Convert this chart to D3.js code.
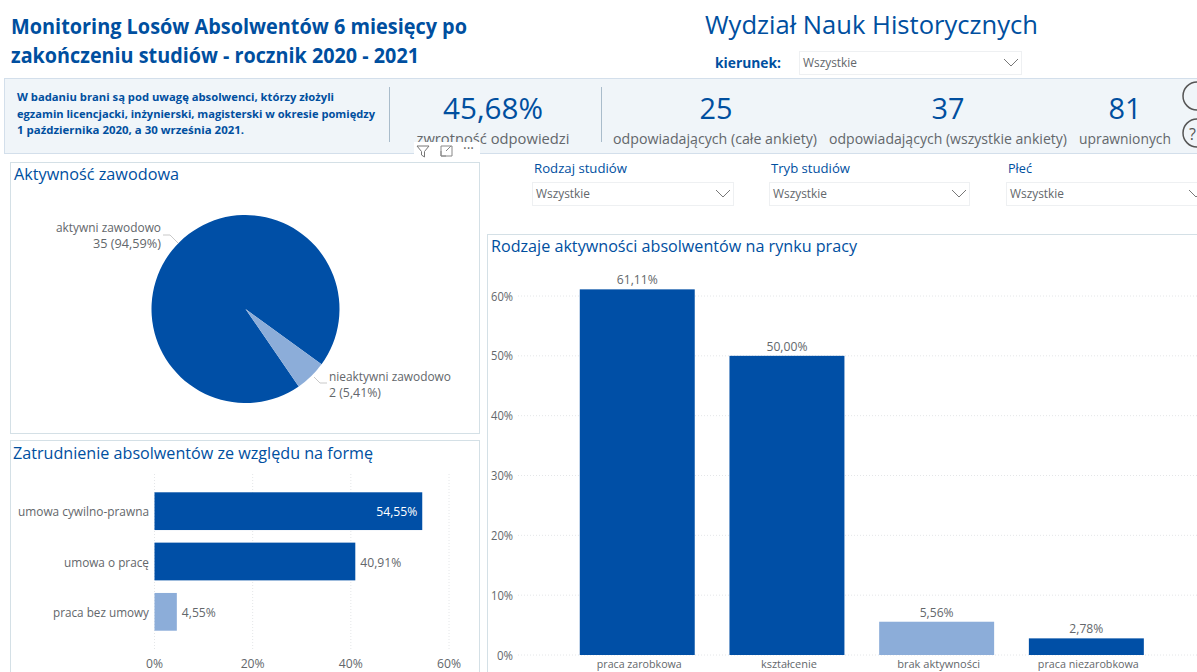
<!DOCTYPE html>
<html><head><meta charset="utf-8">
<script src="https://cdnjs.cloudflare.com/ajax/libs/d3/7.8.5/d3.min.js"></script>
<style>
html,body{margin:0;padding:0;background:#fff;overflow:hidden}
svg{display:block}
text{font-family:"Open Sans","Noto Sans",sans-serif}
</style></head><body>
<svg id="c" width="1197" height="672"></svg>
<script>
const pieLabels=["aktywni zawodowo","nieaktywni zawodowo"];
const pieValues=[35,2];
const pieTexts=["35 (94,59%)","2 (5,41%)"];
const formCategories=["umowa cywilno-prawna","umowa o pracę","praca bez umowy"];
const formValues=[54.55,40.91,4.55];
const formTicks=[0,20,40,60];
const activityCategories=["praca zarobkowa","kształcenie","brak aktywności","praca niezarobkowa"];
const activityValues=[61.11,50.00,5.56,2.78];
const activityTicks=[0,10,20,30,40,50,60];
const kpiValues=["45,68%","25","37","81"];
const kpiLabels=["zwrotność odpowiedzi","odpowiadających (całe ankiety)","odpowiadających (wszystkie ankiety)","uprawnionych"];
const slicerNames=["Rodzaj studiów","Tryb studiów","Płeć"];

const DARK="#004fa6",LIGHT="#8cadd9",BLUE="#004f9f",GREY="#63676b";
const svg=d3.select("#c");
const pct=v=>v.toFixed(2).replace(".",",")+"%";
function T(x,y,s,size,fill,opt={}){
  const t=svg.append("text").attr("x",x).attr("y",y).text(s).attr("font-size",size).attr("fill",fill)
   .attr("text-anchor",opt.a||"start").attr("font-weight",opt.w||400);
  if(opt.len){t.attr("textLength",opt.len).attr("lengthAdjust","spacingAndGlyphs");}
  return t;
}
function panel(x,y,w,h){svg.append("rect").attr("x",x+.5).attr("y",y+.5).attr("width",w).attr("height",h).attr("fill","#fff").attr("stroke","#d4e0e6");}
function slicer(x,y,w,h,lab){
  svg.append("rect").attr("x",x+.5).attr("y",y+.5).attr("width",w).attr("height",h).attr("fill","#fff").attr("stroke","#eef0f2");
  T(x+4,y+h/2+4.5,lab,12.5,GREY,{len:54});
  const cx=x+w-10;
  svg.append("path").attr("d",`M${cx-7},${y+h/2-3.5}L${cx},${y+h/2+3.5}L${cx+7},${y+h/2-3.5}`).attr("fill","none").attr("stroke","#777");
}

// header
T(11,34,"Monitoring Losów Absolwentów 6 miesięcy po",21,BLUE,{w:700,len:456});
T(11,63,"zakończeniu studiów - rocznik 2020 - 2021",21,BLUE,{w:700,len:408});
T(705,34,"Wydział Nauk Historycznych",26,BLUE,{len:333});
T(715,68,"kierunek:",14,BLUE,{w:700,len:66});
slicer(799,51,222,23,"Wszystkie");

// band
svg.append("rect").attr("x",4.5).attr("y",78.5).attr("width",1194).attr("height",75).attr("fill","#f0f5f9").attr("stroke","#d3dfeb");
["W badaniu brani są pod uwagę absolwenci, którzy złożyli","egzamin licencjacki, inżynierski, magisterski w okresie pomiędzy","1 października 2020, a 30 września 2021."].forEach((s,i)=>{
  T(17,[101,118,134][i],s,11,BLUE,{w:700,len:[317,358,227][i]});
});
[389.5,601.5].forEach((x,i)=>svg.append("line").attr("x1",x).attr("x2",x).attr("y1",87).attr("y2",[142,142][i]).attr("stroke","#a9bccb"));
const kpiX=[493,716,948,1125],lblX=[493,715,948,1125],lblLen=[153,204,238,92],valLen=[100,33,33,33];
kpiValues.forEach((v,i)=>T(kpiX[i],119,v,29,BLUE,{a:"middle",len:valLen[i]}));
kpiLabels.forEach((s,i)=>T(lblX[i],144,s,14,GREY,{a:"middle",len:lblLen[i]}));
svg.append("circle").attr("cx",1197).attr("cy",96).attr("r",14).attr("fill","none").attr("stroke","#555").attr("stroke-width",1.5);
svg.append("circle").attr("cx",1197).attr("cy",133).attr("r",14).attr("fill","none").attr("stroke","#555").attr("stroke-width",1.5);
T(1189,140,"?",16,"#555");

// slicers
const slX=[534,771,1008],slW=[201,200,200];
slicerNames.forEach((n,i)=>{
  T(slX[i],173,n,13,BLUE,{len:[93,79,24][i]});
  slicer(slX[i]-2,182,slW[i],23,"Wszystkie");
});

// pie panel
panel(10,162,469,271);
T(14,180,"Aktywność zawodowa",16,BLUE,{len:165});
const pieG=svg.append("g").attr("transform","translate(245.5,309)");
const a0=145.5*Math.PI/180;
const pie=d3.pie().sort(null).startAngle(a0).endAngle(a0+2*Math.PI);
const arc=d3.arc().innerRadius(0).outerRadius(94);
pieG.selectAll("path").data(pie(pieValues)).join("path").attr("d",arc).attr("fill",(d,i)=>i?LIGHT:DARK);
T(161,232,pieLabels[0],12.5,GREY,{a:"end",len:105});
T(161,248,pieTexts[0],12.5,GREY,{a:"end",len:68});
T(329,381,pieLabels[1],12.5,GREY,{len:122});
T(329,397,pieTexts[1],12.5,GREY,{len:52});
svg.append("path").attr("d","M163,235L170,235L178,243").attr("fill","none").attr("stroke","#c9c9c9");
svg.append("path").attr("d","M314,377L320,383L327,383").attr("fill","none").attr("stroke","#c9c9c9");

// focus icons over KPI label
svg.append("rect").attr("x",414).attr("y",142).attr("width",66).attr("height",19).attr("fill","#fff");
svg.append("path").attr("d","M417,146H429L424.5,151.5V157L421.5,155V151.5Z").attr("fill","none").attr("stroke","#777");
svg.append("path").attr("d","M441,146H452V156H441ZM446,151L451,146M441,151V156H446").attr("fill","none").attr("stroke","#888");
T(463,153,"···",14,"#666");

// form panel
panel(10,440,469,232);
T(13,459,"Zatrudnienie absolwentów ze względu na formę",16,BLUE,{len:360});
const fx=d3.scaleLinear().domain([0,60]).range([154.5,449]);
const fy=d3.scaleBand().domain(formCategories).range([486,637]).paddingInner(.25).paddingOuter(.125);
const fg=svg.append("g");
fg.selectAll("line").data(formTicks).join("line").attr("x1",d=>fx(d)).attr("x2",d=>fx(d)).attr("y1",474).attr("y2",650)
  .attr("stroke","#e4e6e8").attr("stroke-dasharray","1 2");
fg.selectAll("rect").data(formValues).join("rect").attr("x",fx(0)).attr("y",(d,i)=>fy(formCategories[i])).attr("height",fy.bandwidth())
  .attr("width",d=>fx(d)-fx(0)).attr("fill",(d,i)=>i==2?LIGHT:DARK);
formCategories.forEach((c,i)=>{
  const y=fy(c)+fy.bandwidth()/2+5;
  T(149,y,c,12.5,GREY,{a:"end",len:[131,85,96][i]});
  const v=formValues[i];
  if(i==0) T(fx(v)-5,y,pct(v),12.5,"#fff",{a:"end",len:41});
  else T(fx(v)+5,y,pct(v),12.5,GREY,{len:i==1?41:34});
});
formTicks.forEach(t=>T(fx(t),668,t+"%",12,GREY,{a:"middle",len:t?24:17}));

// activity panel
panel(487,234,720,445);
T(491,252,"Rodzaje aktywności absolwentów na rynku pracy",16,BLUE,{len:366});
const ay=d3.scaleLinear().domain([0,60]).range([655,296]);
const ax=d3.scaleBand().domain(activityCategories).range([562.4,1161.2]).paddingInner(.232).paddingOuter(.116);
const ag=svg.append("g");
ag.selectAll("line").data(activityTicks).join("line").attr("x1",518).attr("x2",1197).attr("y1",d=>ay(d)).attr("y2",d=>ay(d))
  .attr("stroke","#e4e6e8").attr("stroke-dasharray","1 2");
ag.selectAll("rect").data(activityValues).join("rect").attr("x",(d,i)=>ax(activityCategories[i])).attr("width",ax.bandwidth())
  .attr("y",d=>ay(d)).attr("height",d=>ay(0)-ay(d)).attr("fill",(d,i)=>i==2?LIGHT:DARK);
activityTicks.forEach(t=>T(513,ay(t)+4.5,t+"%",12,GREY,{a:"end",len:t?22:16}));
activityCategories.forEach((c,i)=>{
  const cx=ax(c)+ax.bandwidth()/2;
  T(cx+2,668,c,11.5,GREY,{a:"middle",len:[85,56,83,101][i]});
  const v=activityValues[i];
  T(cx,ay(v)-5,pct(v),12.5,GREY,{a:"middle",len:v>=10?41:34});
});
</script>
</body></html>
